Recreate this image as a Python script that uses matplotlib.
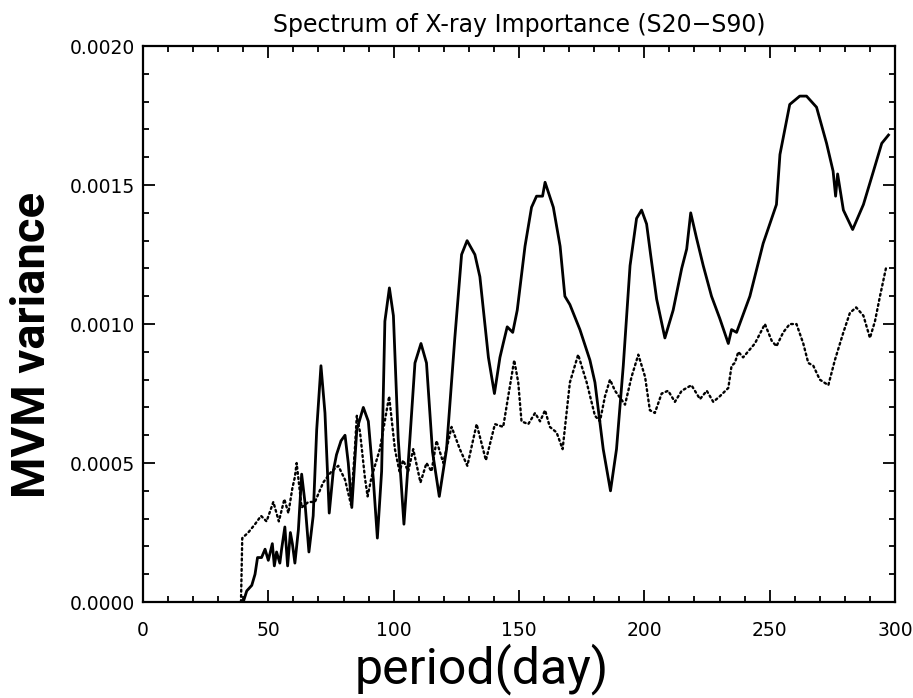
import matplotlib
matplotlib.use("Agg")
import matplotlib.pyplot as plt
from matplotlib.ticker import MultipleLocator, FormatStrFormatter

# Solid curve: period (day) and MVM variance
solid_day = [40, 41.4, 43.4, 44.7, 45.7, 47.3, 48.7, 50, 51.6, 52.4, 53.3, 54.6, 55.3, 56.6,
             57.7, 58.8, 59.6, 60.6, 62, 63.3, 64.6, 66.2, 67.9, 69.3, 71, 72.6, 74.3, 75.9,
             77.2, 79, 80.6, 81.9, 83.3, 85.3, 87.9, 89.9, 91.9, 93.5, 95.2, 96.5, 98.3,
             99.9, 101.8, 104.1, 106.5, 108.5, 110.9, 113.1, 115.5, 118.2, 121.1, 124.4,
             127.1, 129.3, 132.4, 134.4, 137.8, 140.2, 142.4, 143.7, 145.3, 147.5, 149.3,
             152.4, 155, 157, 159.4, 160.4, 163.7, 166.4, 168.3, 170.3, 174.3, 178.3, 180.3,
             183.6, 186.5, 188.9, 191.6, 194.3, 196.9, 198.9, 200.9, 202.5, 204.9, 208.2,
             211.5, 214.9, 216.9, 218.5, 220.8, 223.5, 226.8, 230.1, 233.5, 234.8, 236.8,
             242.1, 247.4, 252.7, 254.1, 258, 262, 264.7, 268.7, 272.7, 275.3, 276.3, 277.1,
             279.4, 283.1, 287.4, 291.4, 294.7, 297.4]
solid_val = [0.0, 0.00004, 0.00006, 0.00010, 0.00016, 0.00016, 0.00019, 0.00015, 0.00021,
             0.00013, 0.00018, 0.00014, 0.00019, 0.00027, 0.00013, 0.00025, 0.00021, 0.00014,
             0.00026, 0.00046, 0.00036, 0.00018, 0.00031, 0.00062, 0.00085, 0.00068, 0.00032,
             0.00047, 0.00053, 0.00058, 0.00060, 0.00050, 0.00034, 0.00062, 0.00070, 0.00065,
             0.00044, 0.00023, 0.00047, 0.00101, 0.00113, 0.00103, 0.00059, 0.00028, 0.00059,
             0.00086, 0.00093, 0.00086, 0.00054, 0.00038, 0.00055, 0.00095, 0.00125, 0.00130,
             0.00125, 0.00117, 0.00088, 0.00075, 0.00088, 0.00093, 0.00099, 0.00097, 0.00105,
             0.00128, 0.00142, 0.00146, 0.00146, 0.00151, 0.00142, 0.00128, 0.00110, 0.00107,
             0.00098, 0.00087, 0.00079, 0.00055, 0.00040, 0.00055, 0.00085, 0.00121, 0.00138,
             0.00141, 0.00136, 0.00125, 0.00109, 0.00095, 0.00105, 0.00120, 0.00127, 0.00140,
             0.00131, 0.00121, 0.00110, 0.00102, 0.00093, 0.00098, 0.00097, 0.00110, 0.00129,
             0.00143, 0.00161, 0.00179, 0.00182, 0.00182, 0.00178, 0.00165, 0.00155, 0.00146,
             0.00154, 0.00141, 0.00134, 0.00143, 0.00155, 0.00165, 0.00168]

# Dotted curve
dot_day = [39.1, 39.6, 42, 44.7, 47.1, 49.3, 52, 54.2, 56.4, 58, 59.6, 60.6, 61.3, 63.3, 66,
           68.6, 71.9, 75.2, 77.9, 80.6, 83, 84.6, 85.3, 86.6, 88.5, 89.6, 91.2, 94.5, 98.2,
           100.5, 102.3, 103.8, 105.8, 107.8, 110.7, 113.1, 115.1, 117.1, 119.8, 123.1,
           126.4, 129.4, 133.1, 136.8, 140.4, 143.7, 145.7, 148.1, 149.7, 151, 153.7, 156.4,
           158.4, 160.4, 162.3, 165, 167.4, 170.3, 173.6, 177, 180.3, 182.3, 184.3, 186.3,
           188.3, 192.3, 194.9, 197.6, 200.3, 202.2, 204.2, 206.9, 209.5, 212.2, 214.9,
           218.8, 222.2, 224.9, 227.5, 230.1, 233.5, 234.8, 236.1, 237.5, 239.4, 244.1,
           248.1, 250.8, 252.7, 255.4, 258, 260.7, 263.4, 265.4, 267.4, 270, 273.4, 276,
           279.4, 282, 284.5, 287.4, 290, 292, 294, 296.6]
dot_val = [0.0, 0.00023, 0.00025, 0.00028, 0.00031, 0.00029, 0.00036, 0.00029, 0.00037,
           0.00032, 0.00041, 0.00045, 0.00050, 0.00034, 0.00036, 0.00036, 0.00043, 0.00047,
           0.00049, 0.00044, 0.00035, 0.00056, 0.00067, 0.00061, 0.00045, 0.00038, 0.00045,
           0.00055, 0.00074, 0.00055, 0.00047, 0.00051, 0.00047, 0.00055, 0.00043, 0.00050,
           0.00047, 0.00058, 0.00050, 0.00063, 0.00055, 0.00049, 0.00064, 0.00051, 0.00064,
           0.00063, 0.00074, 0.00087, 0.00079, 0.00065, 0.00064, 0.00068, 0.00065, 0.00069,
           0.00063, 0.00061, 0.00055, 0.00079, 0.00089, 0.00079, 0.00067, 0.00065, 0.00074,
           0.00080, 0.00076, 0.00071, 0.00081, 0.00089, 0.00081, 0.00069, 0.00068, 0.00075,
           0.00076, 0.00072, 0.00076, 0.00078, 0.00073, 0.00076, 0.00072, 0.00074, 0.00077,
           0.00085, 0.00086, 0.00090, 0.00088, 0.00093, 0.00100, 0.00094, 0.00092, 0.00097,
           0.00100, 0.00100, 0.00093, 0.00086, 0.00085, 0.00080, 0.00078, 0.00087, 0.00097,
           0.00104, 0.00106, 0.00103, 0.00095, 0.00101, 0.00110, 0.00121]

title = "Spectrum of X-ray Importance (S20\u2212S90)"
xlabel = "period(day)"
ylabel = "MVM variance"

fig = plt.figure(figsize=(9.13, 6.98), dpi=100)
ax = fig.add_axes([0.1566, 0.1375, 0.8237, 0.7965])

ax.plot(solid_day, solid_val, color="black", lw=2.0, solid_joinstyle="round")
ax.plot(dot_day, dot_val, color="black", lw=1.7, linestyle=(0, (0.8, 1.4)),
        dash_capstyle="round")

ax.set_xlim(0, 300)
ax.set_ylim(0, 0.0020)
ax.xaxis.set_major_locator(MultipleLocator(50))
ax.xaxis.set_minor_locator(MultipleLocator(10))
ax.yaxis.set_major_locator(MultipleLocator(0.0005))
ax.yaxis.set_minor_locator(MultipleLocator(0.0001))
ax.yaxis.set_major_formatter(FormatStrFormatter("%.4f"))
ax.tick_params(which="both", direction="in", top=True, right=True, width=1.3,
               labelsize=13.5)
ax.tick_params(axis="x", which="both", pad=14)
ax.tick_params(axis="y", which="both", pad=6)
ax.tick_params(which="major", length=8.5)
ax.tick_params(which="minor", length=4.5)
for s in ax.spines.values():
    s.set_linewidth(1.6)

ax.set_title(title, fontsize=17, pad=10)
ax.set_xlabel(xlabel, fontsize=36, family=["Roboto", "DejaVu Sans"])
ax.xaxis.set_label_coords(0.451, -0.074)
ax.xaxis.label.set_verticalalignment("top")
ax.set_ylabel(ylabel, fontsize=34, fontweight="bold", family=["Roboto", "DejaVu Sans"])
ax.yaxis.set_label_coords(-0.118, 0.462)

fig.savefig("out.png", dpi=100)
